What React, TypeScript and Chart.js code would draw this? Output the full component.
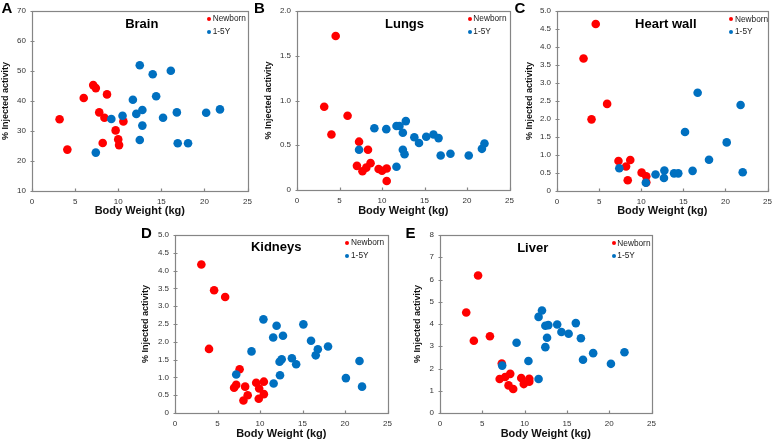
import React, { useEffect, useRef } from "react";
import { Chart, registerables } from "chart.js";

Chart.register(...registerables);

const FONT = "'Liberation Sans', Arial, sans-serif";
const RED = "#ff0000";
const BLUE = "#0070c0";

// ---- Data (Body Weight kg, % Injected activity) ----
const xTicks = [0, 5, 10, 15, 20, 25];

const brainNewbornW = [3.2, 4.1, 6.0, 7.1, 7.4, 7.8, 8.2, 8.4, 8.7, 9.7, 10.0, 10.1, 10.6];
const brainNewbornV = [33.9, 23.8, 41.0, 45.3, 44.3, 36.2, 26.0, 34.4, 42.2, 30.2, 27.2, 25.3, 33.2];
const brainChildW = [7.4, 9.2, 10.5, 11.7, 12.1, 12.5, 12.5, 12.8, 12.8, 14.0, 14.4, 15.2, 16.1, 16.8, 16.9, 18.1, 20.2, 21.8];
const brainChildV = [22.8, 34.0, 35.1, 40.4, 35.7, 51.9, 27.0, 31.8, 37.0, 48.9, 41.6, 34.4, 50.1, 36.2, 25.9, 25.9, 36.1, 37.2];

const lungsNewbornW = [3.2, 4.05, 4.55, 5.95, 7.05, 7.3, 7.7, 8.15, 8.35, 8.65, 9.6, 10.0, 10.55, 10.55];
const lungsNewbornV = [0.93, 0.62, 1.72, 0.83, 0.27, 0.54, 0.21, 0.25, 0.45, 0.3, 0.235, 0.215, 0.24, 0.1];
const lungsChildW = [7.3, 9.1, 10.5, 11.7, 11.7, 12.05, 12.45, 12.45, 12.65, 12.8, 13.8, 14.35, 15.2, 16.05, 16.65, 16.9, 18.05, 20.2, 21.75, 22.05];
const lungsChildV = [0.45, 0.69, 0.68, 0.26, 0.715, 0.715, 0.64, 0.45, 0.4, 0.77, 0.59, 0.525, 0.595, 0.62, 0.58, 0.385, 0.405, 0.385, 0.46, 0.52];

const heartNewbornW = [3.15, 4.1, 4.6, 5.95, 7.3, 8.2, 8.7, 8.4, 10.05, 10.6, 10.6];
const heartNewbornV = [3.68, 1.99, 4.64, 2.42, 0.835, 0.68, 0.86, 0.3, 0.51, 0.41, 0.24];
const heartChildW = [7.4, 10.55, 11.7, 12.75, 12.7, 13.9, 14.4, 15.2, 16.1, 16.7, 18.05, 20.15, 21.8, 22.05];
const heartChildV = [0.63, 0.23, 0.46, 0.57, 0.36, 0.49, 0.49, 1.64, 0.56, 2.73, 0.87, 1.35, 2.39, 0.52];

const kidneyNewbornW = [3.1, 4.0, 4.6, 5.9, 6.95, 7.2, 7.6, 8.05, 8.25, 8.55, 9.55, 9.85, 9.9, 10.45, 10.45];
const kidneyNewbornV = [4.17, 1.8, 3.45, 3.26, 0.71, 0.79, 1.23, 0.35, 0.74, 0.5, 0.85, 0.4, 0.69, 0.88, 0.53];
const kidneyChildW = [7.2, 9.0, 10.4, 11.95, 11.55, 12.7, 11.6, 12.35, 12.3, 12.55, 13.75, 14.25, 15.1, 16.0, 16.8, 16.55, 18.0, 20.1, 21.7, 22.0];
const kidneyChildV = [1.08, 1.73, 2.63, 2.45, 2.12, 2.17, 0.83, 1.06, 1.44, 1.51, 1.54, 1.37, 2.49, 2.03, 1.79, 1.62, 1.87, 0.98, 1.46, 0.74];

const liverNewbornW = [3.1, 4.0, 4.5, 5.9, 7.05, 7.3, 7.7, 8.1, 8.3, 8.65, 9.6, 9.9, 10.55, 10.55];
const liverNewbornV = [4.52, 3.25, 6.18, 3.45, 1.53, 2.22, 1.62, 1.24, 1.76, 1.08, 1.57, 1.3, 1.54, 1.41];
const liverChildW = [7.35, 9.05, 10.45, 11.65, 11.65, 12.05, 12.45, 12.8, 12.65, 12.45, 13.85, 14.35, 15.2, 16.05, 16.65, 16.9, 18.1, 20.2, 21.8];
const liverChildV = [2.13, 3.16, 2.34, 1.53, 4.32, 4.61, 3.92, 3.95, 3.38, 2.96, 3.98, 3.64, 3.56, 4.04, 3.36, 2.39, 2.69, 2.21, 2.73];

const seriesNames = ["Newborn", "1-5Y"];

const pts = (w: number[], v: number[]) => w.map((x, i) => ({ x, y: v[i] }));

const framePlugin = {
  id: "frameTicks",
  beforeDatasetsDraw(chart: any) {
    const { ctx, chartArea: a, scales } = chart;
    ctx.save();
    ctx.strokeStyle = "#858585";
    ctx.lineWidth = 1.2;
    const l = Math.round(a.left) + 0.5;
    const r = Math.round(a.right) + 0.5;
    const t = Math.round(a.top) + 0.5;
    const b = Math.round(a.bottom) + 0.5;
    ctx.strokeRect(l, t, r - l, b - t);
    ctx.beginPath();
    scales.x.ticks.forEach((_: any, i: number) => {
      const px = Math.round(scales.x.getPixelForTick(i)) + 0.5;
      ctx.moveTo(px, b);
      ctx.lineTo(px, b - 3);
    });
    scales.y.ticks.forEach((_: any, i: number) => {
      const py = Math.round(scales.y.getPixelForTick(i)) + 0.5;
      ctx.moveTo(l - 2, py);
      ctx.lineTo(l + 2, py);
    });
    ctx.stroke();
    ctx.restore();
  },
};

type PanelProps = {
  left: number; top: number; w: number; h: number;
  padTop: number; padRight: number; yW: number; xH: number; titlePadBottom: number;
  yMin: number; yMax: number; yStep: number;
  newborn: { x: number; y: number }[];
  child: { x: number; y: number }[];
};

function ScatterPanel(p: PanelProps) {
  const ref = useRef<HTMLCanvasElement | null>(null);
  useEffect(() => {
    if (!ref.current) return;
    const chart = new Chart(ref.current, {
      type: "scatter",
      data: {
        datasets: [
          { label: seriesNames[0], data: p.newborn, backgroundColor: RED, borderWidth: 0, pointRadius: 4.3, order: 1 },
          { label: seriesNames[1], data: p.child, backgroundColor: BLUE, borderWidth: 0, pointRadius: 4.3, order: 0 },
        ],
      },
      options: {
        responsive: false,
        animation: false,
        layout: { padding: { top: p.padTop, right: p.padRight, left: 0, bottom: 0 } },
        plugins: { legend: { display: false }, tooltip: { enabled: false } },
        scales: {
          x: {
            type: "linear",
            min: 0,
            max: 25,
            afterBuildTicks: (s: any) => { s.ticks = xTicks.map((v) => ({ value: v })); },
            ticks: { font: { size: 8, family: FONT }, color: "#333", padding: 6 },
            grid: { display: false, drawTicks: false },
            border: { display: false },
            title: {
              display: true,
              text: "Body Weight (kg)",
              color: "#111",
              font: { size: 11, weight: "bold", family: FONT },
              padding: { top: 0, bottom: p.titlePadBottom },
            },
            afterFit: (s: any) => { s.height = p.xH; },
          },
          y: {
            type: "linear",
            min: p.yMin,
            max: p.yMax,
            ticks: { stepSize: p.yStep, font: { size: 8, family: FONT }, color: "#333", padding: 6 },
            grid: { display: false, drawTicks: false },
            border: { display: false },
            title: {
              display: true,
              text: "% Injected activity",
              color: "#111",
              font: { size: 9, weight: "bold", family: FONT },
              padding: { top: 0, bottom: 0 },
            },
            afterFit: (s: any) => { s.width = p.yW; },
          },
        },
      } as any,
      plugins: [framePlugin],
    });
    return () => chart.destroy();
  }, []);
  return (
    <canvas
      ref={ref}
      width={p.w}
      height={p.h}
      style={{ position: "absolute", left: p.left, top: p.top, width: p.w, height: p.h }}
    />
  );
}

function Letter({ text, left, top }: { text: string; left: number; top: number }) {
  return (
    <div style={{ position: "absolute", left, top, fontFamily: FONT, fontWeight: "bold", fontSize: 15, lineHeight: "15px", color: "#000" }}>
      {text}
    </div>
  );
}

function PanelTitle({ text, cx, top }: { text: string; cx: number; top: number }) {
  return (
    <div style={{ position: "absolute", left: cx - 60, width: 120, top, textAlign: "center", fontFamily: FONT, fontWeight: "bold", fontSize: 13, lineHeight: "13px", color: "#000" }}>
      {text}
    </div>
  );
}

function Legend({ dx, dy, tx }: { dx: number; dy: number; tx: number }) {
  const colors = [RED, BLUE];
  return (
    <>
      {seriesNames.map((n, i) => {
        const cy = dy + i * 12.8;
        return (
          <React.Fragment key={n}>
            <div style={{ position: "absolute", left: dx - 2, top: cy - 2, width: 4, height: 4, borderRadius: "50%", background: colors[i] }} />
            <div style={{ position: "absolute", left: tx, top: cy - 4.8, fontFamily: FONT, fontSize: 8.3, lineHeight: "8.3px", color: "#222", whiteSpace: "nowrap" }}>
              {n}
            </div>
          </React.Fragment>
        );
      })}
    </>
  );
}

export default function App() {
  return (
    <div style={{ position: "absolute", left: 0, top: 0, width: 778, height: 442, background: "#fff", overflow: "hidden" }}>
      <ScatterPanel left={0} top={0} w={258} h={220} padTop={11} padRight={9} yW={32} xH={29} titlePadBottom={2}
        yMin={10} yMax={70} yStep={10} newborn={pts(brainNewbornW, brainNewbornV)} child={pts(brainChildW, brainChildV)} />
      <ScatterPanel left={263} top={0} w={257} h={220} padTop={11} padRight={9} yW={34} xH={30} titlePadBottom={2}
        yMin={0} yMax={2} yStep={0.5} newborn={pts(lungsNewbornW, lungsNewbornV)} child={pts(lungsChildW, lungsChildV)} />
      <ScatterPanel left={524} top={0} w={254} h={220} padTop={11} padRight={7} yW={33} xH={29} titlePadBottom={2}
        yMin={0} yMax={5} yStep={0.5} newborn={pts(heartNewbornW, heartNewbornV)} child={pts(heartChildW, heartChildV)} />
      <ScatterPanel left={140} top={222} w={258} h={220} padTop={13} padRight={10} yW={35} xH={29} titlePadBottom={1.5}
        yMin={0} yMax={5} yStep={0.5} newborn={pts(kidneyNewbornW, kidneyNewbornV)} child={pts(kidneyChildW, kidneyChildV)} />
      <ScatterPanel left={412} top={222} w={250} h={220} padTop={13} padRight={9} yW={28} xH={29} titlePadBottom={1.5}
        yMin={0} yMax={8} yStep={1} newborn={pts(liverNewbornW, liverNewbornV)} child={pts(liverChildW, liverChildV)} />

      <Letter text="A" left={1.5} top={0} />
      <Letter text="B" left={254} top={0} />
      <Letter text="C" left={514.5} top={0} />
      <Letter text="D" left={141} top={225} />
      <Letter text="E" left={405.5} top={225} />

      <PanelTitle text="Brain" cx={141.8} top={16.6} />
      <PanelTitle text="Lungs" cx={404.5} top={17.3} />
      <PanelTitle text="Heart wall" cx={665.8} top={17.3} />
      <PanelTitle text="Kidneys" cx={276.2} top={240} />
      <PanelTitle text="Liver" cx={532.7} top={241} />

      <Legend dx={209} dy={19} tx={212.7} />
      <Legend dx={470} dy={19} tx={473.3} />
      <Legend dx={731} dy={19.3} tx={735} />
      <Legend dx={347.3} dy={242.7} tx={351} />
      <Legend dx={613.7} dy={243.3} tx={617.3} />
    </div>
  );
}
